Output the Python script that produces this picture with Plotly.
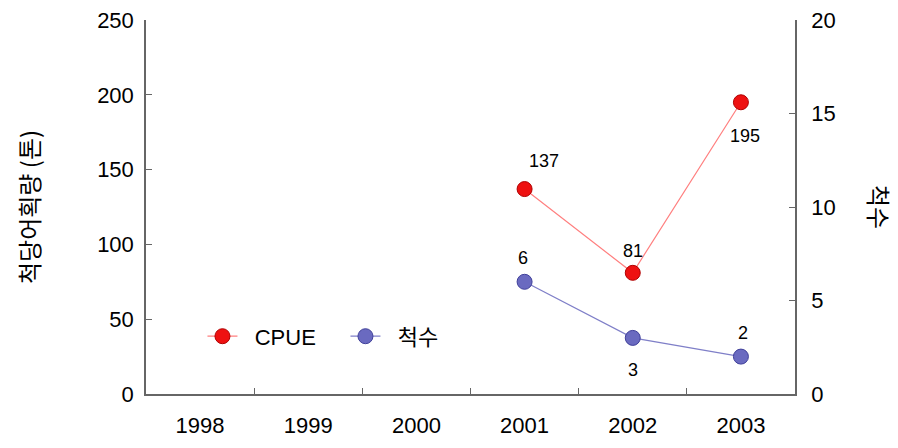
import plotly.graph_objects as go

years = ["1998", "1999", "2000", "2001", "2002", "2003"]
cpue = [None, None, None, 137, 81, 195]
boats = [None, None, None, 6, 3, 2]

# label offsets in pixels (dx, dy) relative to the marker
cpue_off = {"2001": (19, 28), "2002": (0, 22), "2003": (4, -34)}
boats_off = {"2001": (-2, 24), "2002": (0, -32), "2003": (2, 24)}

tick_font = dict(family="Liberation Sans, Arial", size=22, color="black")
label_font = dict(family="Liberation Sans, Arial", size=18, color="black")
kr_font = dict(family="Noto Sans CJK KR", size=24, color="black")

fig = go.Figure()
fig.add_trace(go.Scatter(
    x=years, y=cpue, name="\u00a0\u00a0CPUE", mode="lines+markers",
    line=dict(color="#ff7f7f", width=1.2),
    marker=dict(size=15, color="#ee1111", line=dict(color="#b00000", width=1)),
))
fig.add_trace(go.Scatter(
    x=years, y=boats, name="\u00a0\u00a0척수", mode="lines+markers", yaxis="y2",
    line=dict(color="#7f7fc8", width=1.2),
    marker=dict(size=15, color="#6a6ac0", line=dict(color="#40409a", width=1)),
))

annotations = []
for i, (x, v) in enumerate(zip(years, cpue)):
    if v is not None:
        dx, dy = cpue_off[x]
        annotations.append(dict(x=i, y=v, xref="x", yref="y", text=str(v),
                                showarrow=False, xshift=dx, yshift=dy, font=label_font))
for i, (x, v) in enumerate(zip(years, boats)):
    if v is not None:
        dx, dy = boats_off[x]
        annotations.append(dict(x=i, y=v, xref="x", yref="y2", text=str(v),
                                showarrow=False, xshift=dx, yshift=dy, font=label_font))

axis_line = dict(showline=True, linecolor="#666", linewidth=1.5, showgrid=False,
                 zeroline=False, ticks="inside", ticklen=6, tickcolor="#666",
                 tickfont=tick_font, automargin=False, ticklabeloverflow="allow")

# the page puts the figure 8px in from the top-left corner
fig.update_layout(
    width=898, height=448,
    margin=dict(l=138, r=111, t=12, b=62),
    plot_bgcolor="white", paper_bgcolor="white",
    font=tick_font,
    xaxis=dict(axis_line, type="category", tickson="boundaries", range=[-0.5, 5.5],
               ticklabelstandoff=11),
    yaxis=dict(axis_line, range=[0, 250], dtick=50, ticklabelstandoff=6),
    yaxis2=dict(axis_line, range=[0, 20], dtick=5, overlaying="y", side="right",
                ticklabelstandoff=10),
    legend=dict(orientation="h", x=0.087, y=0.154, yanchor="middle",
                entrywidth=98, bgcolor="rgba(0,0,0,0)",
                font=dict(family="Liberation Sans, Noto Sans CJK KR", size=22, color="black")),
    annotations=annotations + [
        dict(text="척당어획량 (톤)", x=(28 - 146) / 649, y=0.5, xref="paper", yref="paper",
             xanchor="center", yanchor="middle",
             textangle=-90, showarrow=False, font=kr_font),
        dict(text="척수", x=(880 - 146) / 649, y=0.5, xref="paper", yref="paper",
             xanchor="center", yanchor="middle",
             textangle=90, showarrow=False, font=kr_font),
    ],
)

fig.write_html("out.html")
